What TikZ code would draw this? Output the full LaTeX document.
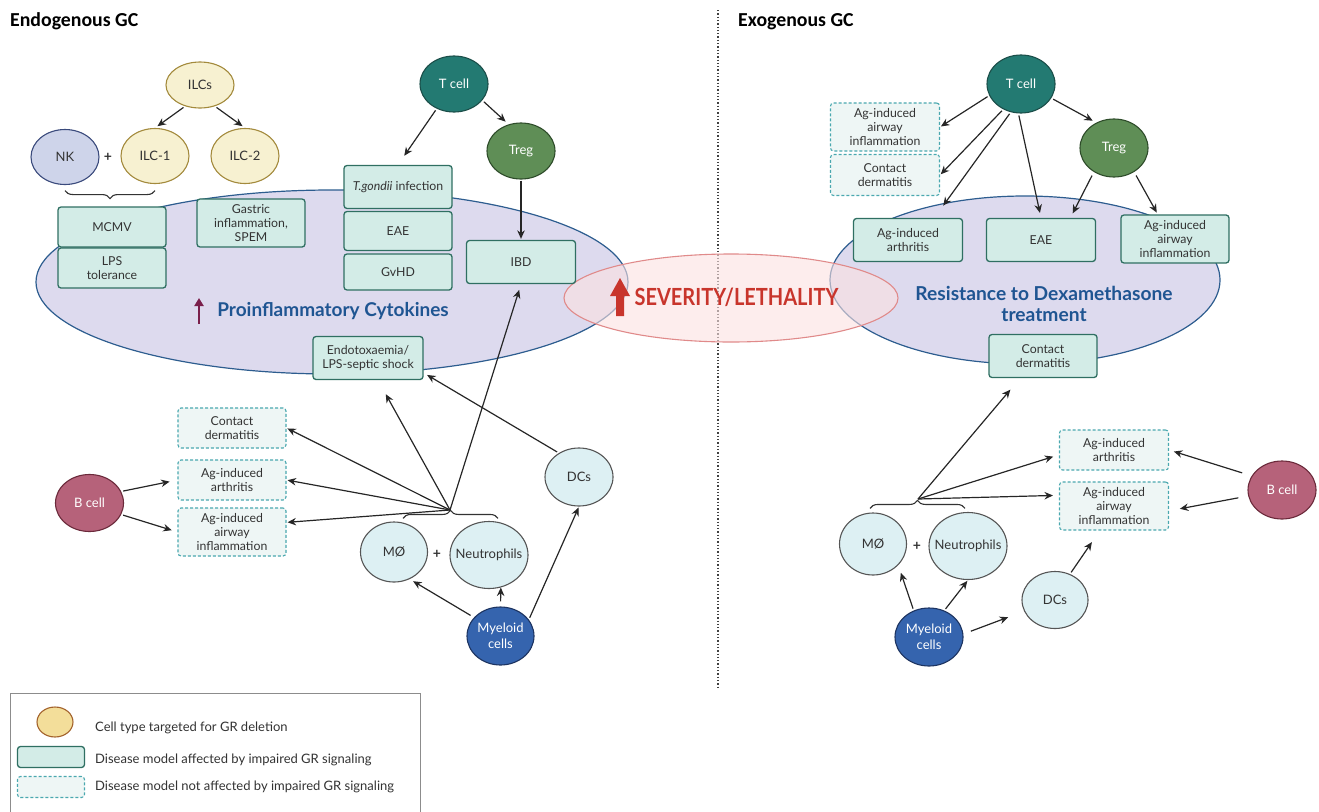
\documentclass[tikz,border=0pt]{standalone}
\usepackage{fontspec}
\setmainfont{Lato}
\newfontfamily\headfont{Carlito}
\usetikzlibrary{shapes.geometric,arrows.meta,decorations.pathreplacing}

\definecolor{cytoFill}{HTML}{DDDAEE}
\definecolor{cytoLine}{HTML}{2D5D8F}
\definecolor{cytoText}{HTML}{1F5592}
\definecolor{sevFill}{HTML}{FBE1E1}
\definecolor{sevLine}{HTML}{E08A8A}
\definecolor{sevText}{HTML}{C8352C}
\definecolor{upPurple}{HTML}{7A1F4B}
\definecolor{affFill}{HTML}{D3ECE7}
\definecolor{affLine}{HTML}{2F6F62}
\definecolor{notFill}{HTML}{EEF6F5}
\definecolor{notLine}{HTML}{4AA8AF}
\definecolor{ilcFill}{HTML}{F7F1D1}
\definecolor{ilcLine}{HTML}{A38A3C}
\definecolor{nkFill}{HTML}{CED4EA}
\definecolor{nkLine}{HTML}{3A4A7C}
\definecolor{tFill}{HTML}{237A72}
\definecolor{tLine}{HTML}{1B4E49}
\definecolor{tregFill}{HTML}{5F8E56}
\definecolor{tregLine}{HTML}{2E4C2A}
\definecolor{bFill}{HTML}{B6627A}
\definecolor{bLine}{HTML}{6B2A3B}
\definecolor{myeFill}{HTML}{3564AE}
\definecolor{myeLine}{HTML}{1D3461}
\definecolor{myFill}{HTML}{DDF0F3}
\definecolor{myLine}{HTML}{555555}
\definecolor{keyFill}{HTML}{F3DE9A}
\definecolor{keyLine}{HTML}{A3622B}
\definecolor{inkText}{HTML}{333333}

\tikzset{
        cell/.style={ellipse, draw, line width=1.1pt, inner sep=0pt, align=center, minimum width=68pt, minimum height=57pt, font=\fontsize{13}{15.5}\selectfont},
        % Cells targeted for GR deletion
        cell_ilc/.style={cell, fill=ilcFill, draw=ilcLine, text=inkText},
        cell_nk/.style={cell, fill=nkFill, draw=nkLine, text=inkText},
        % Lymphocytes
        cell_t/.style={cell, fill=tFill, draw=tLine, text=white},
        cell_treg/.style={cell, fill=tregFill, draw=tregLine, text=white},
        cell_b/.style={cell, fill=bFill, draw=bLine, text=white},
        % Myeloid lineage
        cell_mye/.style={cell, fill=myeFill, draw=myeLine, text=white},
        cell_my/.style={cell, fill=myFill, draw=myLine, text=inkText},
        % Disease models
        model/.style={rectangle, rounded corners=3pt, inner sep=0pt, align=center, minimum width=108pt, minimum height=41pt, text=inkText, font=\fontsize{12.3}{14.2}\selectfont},
        model_aff/.style={model, fill=affFill, draw=affLine, line width=1.3pt},
        model_not/.style={model, fill=notFill, draw=notLine, line width=1.1pt, dash pattern=on 3pt off 2pt},
        % Connectors
        arr/.style={-{Stealth[length=8.5pt,width=7.5pt]}, line width=1.2pt, draw=black!85, shorten <=2pt, shorten >=4pt},
        brace_up/.style={decorate, decoration={brace, amplitude=8pt}, line width=1.1pt, draw=black!80},
        brace_down/.style={brace_up, decoration={mirror}},
        plus/.style={font=\bfseries\fontsize{14}{14}\selectfont, text=inkText},
        key_txt/.style={anchor=west, inner sep=0pt, text=inkText, font=\fontsize{13}{15}\selectfont}
}

\begin{document}
\begin{tikzpicture}[x=1pt, y=-1pt]
    \useasboundingbox (0,0) rectangle (1319,811);

    % titles and divider
    \node[anchor=base west, inner sep=0pt, font=\headfont\bfseries\fontsize{19.8}{19.8}\selectfont] (endoTitle) at (10,27) {Endogenous GC};
    \node[anchor=base west, inner sep=0pt, font=\headfont\bfseries\fontsize{19.8}{19.8}\selectfont] (exoTitle) at (738,27) {Exogenous GC};
    \draw[dotted, line width=1.3pt, black!75] (718,10) -- (718,687);

    % background ellipses
    \draw[fill=cytoFill, draw=cytoLine, line width=1.2pt] (332,282) ellipse [x radius=296pt, y radius=92pt];
    \draw[fill=cytoFill, draw=cytoLine, line width=1.2pt] (1025,280) ellipse [x radius=195pt, y radius=84pt];
    \draw[fill=sevFill, fill opacity=0.6, draw=sevLine, line width=1.1pt] (731,298) ellipse [x radius=167pt, y radius=44pt];

    \fill[sevText] (616,316) -- (616,296) -- (610,296) -- (620,278) -- (630,296) -- (624,296) -- (624,316) -- cycle;
    \node[anchor=base, inner sep=0pt, text=sevText, font=\bfseries\fontsize{20}{20}\selectfont] (severity) at (736.5,305) {\scalebox{1}[1.18]{SEVERITY/LETHALITY}};

    \draw[-{Triangle[length=8pt,width=9pt]}, line width=2.6pt, upPurple] (199,324) -- (199,298);
    \node[anchor=base, inner sep=0pt, text=cytoText, font=\bfseries\fontsize{19}{19}\selectfont] (cytokines) at (333,316) {Proinflammatory Cytokines};
    \node[inner sep=0pt, align=center, text=cytoText, font=\bfseries\fontsize{19.2}{21.5}\selectfont] (resistance) at (1044,304) {Resistance to Dexamethasone\\treatment};

    % endogenous GC: innate lymphoid cells
    \node[cell_ilc, minimum height=46pt] (ilcs) at (200,85) {ILCs};
    \node[cell_nk, minimum height=55pt] (nk) at (65,157) {NK};
    \node[plus] (plusNK) at (108,157) {+};
    \node[cell_ilc, minimum height=55pt] (ilc1) at (155,156) {ILC-1};
    \node[cell_ilc, minimum height=55pt] (ilc2) at (245,156) {ILC-2};

    \node[model_aff, minimum height=40pt] (mcmv) at (112,227) {MCMV};
    \node[model_aff, minimum height=40pt] (lpsTol) at (112,268) {LPS\\tolerance};
    \node[model_aff, minimum height=48pt] (gastric) at (251,223) {Gastric\\inflammation,\\SPEM};

    % endogenous GC: T cells
    \node[cell_t, minimum height=56pt] (tcellL) at (454,84) {T cell};
    \node[cell_treg, minimum height=56pt] (tregL) at (521,151) {Treg};
    \node[model_aff, minimum height=43pt] (tgondii) at (398,187) {\textit{T.gondii} infection};
    \node[model_aff, minimum height=39pt] (eaeL) at (398,231) {EAE};
    \node[model_aff, minimum height=36pt] (gvhd) at (398,272) {GvHD};
    \node[model_aff, minimum width=109pt, minimum height=43pt] (ibd) at (521,262) {IBD};
    \node[model_aff, minimum width=110pt, minimum height=43pt] (endo) at (368,358) {Endotoxaemia/\\LPS-septic shock};

    % endogenous GC: B cells and myeloid cells
    \node[model_not, minimum height=40pt] (contactL) at (232,428) {Contact\\dermatitis};
    \node[model_not, minimum height=40pt] (arthL) at (232,480) {Ag-induced\\arthritis};
    \node[model_not, minimum height=48pt] (airwayL) at (232,532) {Ag-induced\\airway\\inflammation};
    \node[cell_b, minimum height=57pt] (bcellL) at (89.5,503) {B cell};
    \node[cell_my, minimum width=67pt, minimum height=60pt] (mphL) at (394,552) {MØ};
    \node[plus] (plusL) at (437,554) {+};
    \node[cell_my, minimum width=78pt, minimum height=67pt] (neutL) at (489,555) {\makebox[40pt]{Neutrophils}};
    \node[cell_mye, minimum width=67pt, minimum height=58pt] (myeL) at (500.5,636) {Myeloid\\cells};
    \node[cell_my, minimum height=58pt] (dcL) at (579,477) {DCs};
    \coordinate (tipL) at (450,510);

    % exogenous GC: T cells
    \node[cell_t, minimum height=58pt] (tcellR) at (1021,84) {T cell};
    \node[cell_treg, minimum height=58pt] (tregR) at (1114,148) {Treg};
    \node[model_not, minimum width=109pt, minimum height=48pt] (airwayRn) at (885,127) {Ag-induced\\airway\\inflammation};
    \node[model_not, minimum width=109pt, minimum height=41pt] (contactRn) at (885,175) {Contact\\dermatitis};
    \node[model_aff, minimum width=109pt, minimum height=43pt] (arthR) at (908,240) {Ag-induced\\arthritis};
    \node[model_aff, minimum width=109pt, minimum height=43pt] (eaeR) at (1041,240) {EAE};
    \node[model_aff, minimum height=48pt] (airwayR) at (1175,239) {Ag-induced\\airway\\inflammation};
    \node[model_aff, minimum height=43pt] (contactR) at (1043,356) {Contact\\dermatitis};

    % exogenous GC: B cells and myeloid cells
    \node[cell_my, minimum width=67pt, minimum height=62pt] (mphR) at (873,544) {MØ};
    \node[plus] (plusR) at (917,546) {+};
    \node[cell_my, minimum width=78pt, minimum height=67pt] (neutR) at (968,546) {\makebox[40pt]{Neutrophils}};
    \node[model_not, minimum width=109pt, minimum height=40pt] (arthRn) at (1114,450) {Ag-induced\\arthritis};
    \node[model_not, minimum width=109pt, minimum height=48pt] (airwayRn2) at (1114,506) {Ag-induced\\airway\\inflammation};
    \node[cell_b, minimum height=58pt] (bcellR) at (1282,490) {B cell};
    \node[cell_mye, minimum height=58pt] (myeR) at (929,637) {Myeloid\\cells};
    \node[cell_my, minimum width=66pt, minimum height=57pt] (dcR) at (1055,600) {DCs};
    \coordinate (tipR) at (918,499);

    % connectors, endogenous
    \draw[arr, shorten >=3pt] (ilcs.235) -- (ilc1.north);
    \draw[arr, shorten >=3pt] (ilcs.-55) -- (ilc2.north);
    \draw[brace_down] ([yshift=-5.5pt]nk.south) -- ([yshift=-5.5pt]nk.south -| ilc1.south);
    \draw[arr, shorten >=11pt] (tcellL.235) -- (tgondii.north);
    \draw[arr] (tcellL.-30) -- (tregL.115);
    \draw[arr, shorten <=1pt, shorten >=1pt] (tregL) -- (ibd);
    \draw[brace_up] ([xshift=9pt,yshift=3pt]mphL.north) -- ([xshift=9pt,yshift=3pt]mphL.north -| neutL.north);
    \draw[arr, shorten <=0pt, shorten >=1pt] (tipL) -- (contactL.east);
    \draw[arr, shorten <=0pt, shorten >=1pt] (tipL) -- (arthL.east);
    \draw[arr, shorten <=0pt, shorten >=1pt] (tipL) -- (airwayL.10);
    \draw[arr, shorten <=0pt, shorten >=16pt] (tipL) -- ([xshift=10pt]endo.south);
    \draw[arr, shorten <=0pt, shorten >=6pt] (tipL) -- (ibd.south);
    \draw[arr] (dcL.130) -- (endo.-15);
    \draw[arr, shorten <=4pt] (myeL.145) -- (mphL.-60);
    \draw[arr, shorten <=5pt, shorten >=0pt] (myeL.north) -- (neutL.-70);
    \draw[arr, shorten >=1pt] (myeL.30) -- (dcL.south);
    \draw[arr, shorten >=8pt] (bcellL.20) -- (arthL.west);
    \draw[arr, shorten >=6pt] (bcellL.-20) -- (airwayL.west);

    % connectors, exogenous
    \draw[arr, shorten >=1pt] (tcellR.200) -- (airwayRn.east);
    \draw[arr, shorten >=1pt] (tcellR.235) -- (contactRn.east);
    \draw[arr, shorten >=15pt] (tcellR.250) -- (arthR.40);
    \draw[arr, shorten >=5pt] (tcellR.265) -- (eaeR.north);
    \draw[arr] (tcellR.-25) -- (tregR.125);
    \draw[arr, shorten <=4pt, shorten >=5pt] (tregR.230) -- (eaeR.37);
    \draw[arr, shorten <=4pt, shorten >=2pt] (tregR.-50) -- (airwayR.125);
    \draw[brace_up] ([xshift=-3pt,yshift=4pt]mphR.north) -- ([xshift=-3pt,yshift=4pt]mphR.north -| neutR.north);
    \draw[arr, shorten <=0pt, shorten >=15pt] (tipR) -- (contactR.224);
    \draw[arr, shorten <=0pt, shorten >=6pt] (tipR) -- (arthRn.185);
    \draw[arr, shorten <=0pt, shorten >=6pt] (tipR) -- (airwayRn2.169);
    \draw[arr, shorten <=10pt, shorten >=5pt] (bcellR.155) -- (arthRn.east);
    \draw[arr, shorten <=10pt, shorten >=11pt] (bcellR.190) -- (airwayRn2.-5);
    \draw[arr, shorten >=8pt] (myeR.120) -- (mphR.-40);
    \draw[arr, shorten >=1pt] (myeR.60) -- (neutR.south);
    \draw[arr, shorten <=8pt, shorten >=17pt] (myeR.5) -- (dcR.200);
    \draw[arr, shorten >=14pt] (dcR.60) -- (airwayRn2.240);

    % legend
    \draw[draw=black!45, fill=white, line width=1pt] (10,693) rectangle (420,830);
    \node[ellipse, draw=keyLine, fill=keyFill, line width=1.1pt, inner sep=0pt, minimum width=36pt, minimum height=30pt] (keyCell) at (55,722) {};
    \node[model_aff, minimum width=67pt, minimum height=21pt] (keyAff) at (51,757) {};
    \node[model_not, minimum width=67pt, minimum height=21pt] (keyNot) at (51,787) {};
    \node[key_txt] (keyCellTxt) at (95,728) {Cell type targeted for GR deletion};
    \node[key_txt] (keyAffTxt) at (95,760) {Disease model affected by impaired GR signaling};
    \node[key_txt] (keyNotTxt) at (95,787) {Disease model not affected by impaired GR signaling};
\end{tikzpicture}
\end{document}
